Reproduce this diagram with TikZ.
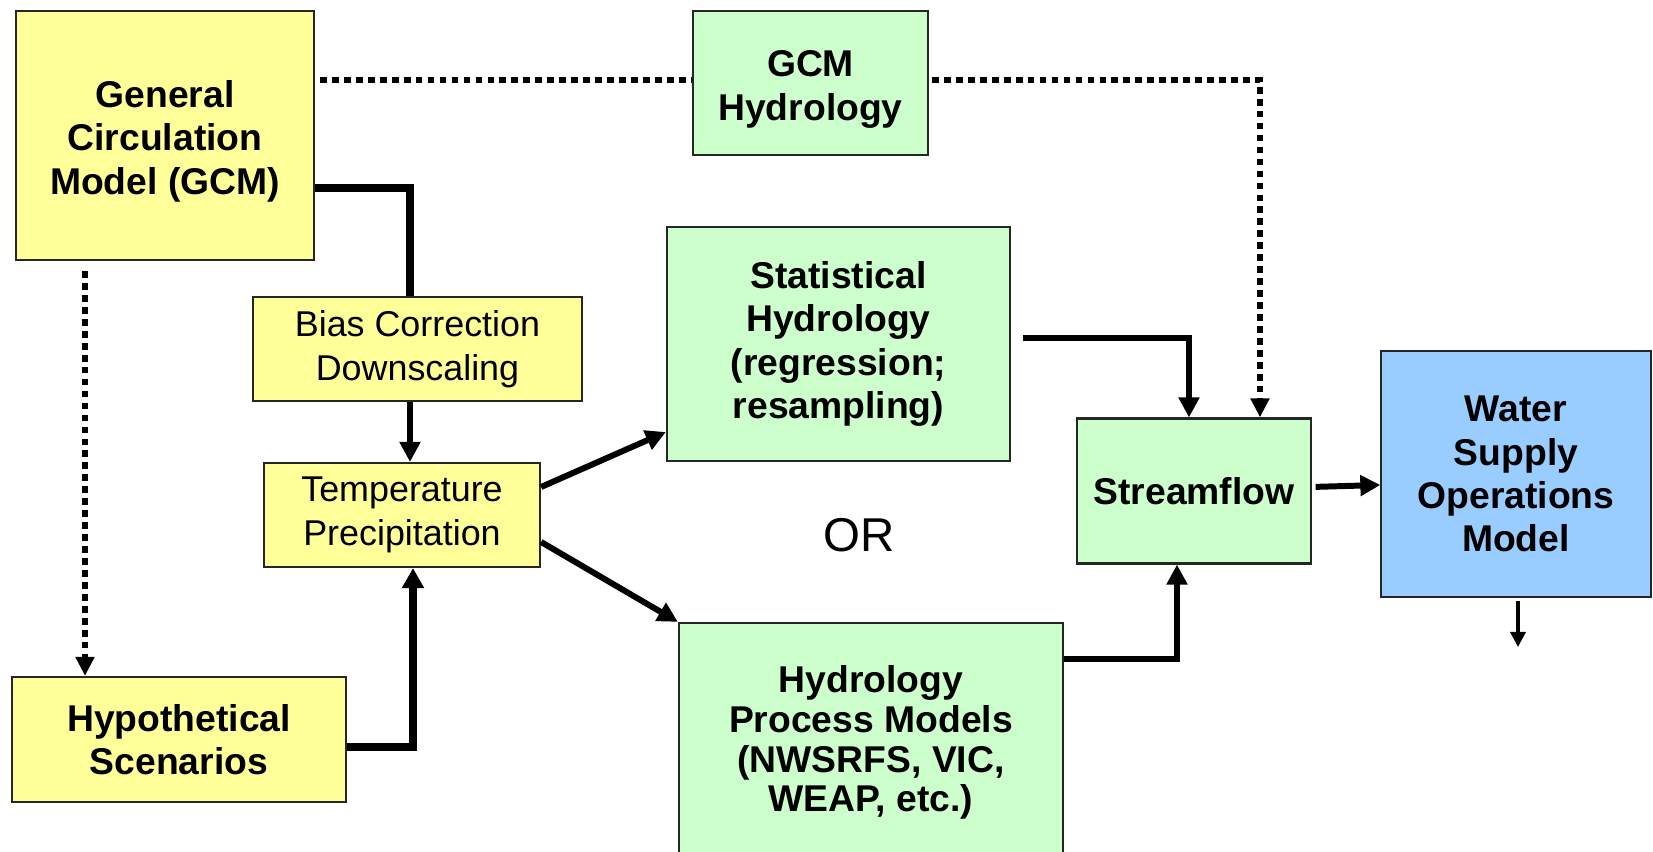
\documentclass[tikz,border=0pt]{standalone}
\usepackage{fontspec}
\setmainfont{Liberation Sans}
\usetikzlibrary{arrows.meta}

\definecolor{gelb}{RGB}{255,255,153}
\definecolor{gruen}{RGB}{204,255,204}
\definecolor{blau}{RGB}{153,204,255}

\begin{document}
\begin{tikzpicture}[%
x={(0.01cm,0cm)},
y={(0cm,-0.01cm)},
kasten/.style={draw=black!85, line width=0.6pt, align=center, inner sep=0pt},
fett/.style={font=\fontsize{10.6}{12.3}\selectfont\bfseries},
normal/.style={font=\fontsize{10.2}{12.6}\selectfont},
pfeil/.style={line width=1.7pt, -{Triangle[length=0.2cm,width=0.2cm]}},
linie/.style={line width=2.1pt},
punkte/.style={line width=1.6pt, dash pattern=on 1.9pt off 1.5pt},
]

\useasboundingbox (0,0) rectangle (1653,852);

\coordinate (A) at (165,135.5);
\coordinate (B) at (810.5,83);
\coordinate (C) at (417.5,349);
\coordinate (D) at (402,515);
\coordinate (E) at (179,739.5);
\coordinate (F) at (838.5,344);
\coordinate (G) at (871,742.5);
\coordinate (H) at (1194,491);
\coordinate (I) at (1516,474);

%Kaesten
\node[kasten, fett, fill=gelb, minimum width=2.98cm, minimum height=2.49cm] (gcm) at (A)
  {\rule{0pt}{11pt}General\\Circulation\\Model (GCM)};
\node[kasten, fett, fill=gruen, minimum width=2.35cm, minimum height=1.44cm] (gcmhyd) at (B)
  {\rule{0pt}{11pt}GCM\\Hydrology};
\node[kasten, normal, fill=gelb, minimum width=3.29cm, minimum height=1.04cm] (bias) at (C)
  {Bias Correction\\Downscaling};
\node[kasten, normal, fill=gelb, minimum width=2.76cm, minimum height=1.04cm] (temp) at (D)
  {Temperature\\Precipitation};
\node[kasten, fett, fill=gelb, minimum width=3.34cm, minimum height=1.25cm] (hyp) at (E)
  {Hypothetical\\Scenarios};
\node[kasten, fett, fill=gruen, minimum width=3.43cm, minimum height=2.34cm] (stat) at (F)
  {Statistical\\Hydrology\\(regression;\\resampling)};
\node[kasten, fill=gruen, minimum width=3.84cm, minimum height=2.39cm,
  font=\fontsize{10.6}{11.3}\selectfont\bfseries] (proc) at (G)
  {Hydrology\\Process Models\\(NWSRFS, VIC,\\WEAP, etc.)};
\node[kasten, fett, fill=gruen, minimum width=2.33cm, minimum height=1.45cm] (flow) at (H)
  {Streamflow};
\node[kasten, fett, fill=blau, minimum width=2.69cm, minimum height=2.45cm] (water) at (I)
  {Water\\Supply\\Operations\\Model};
\node[font=\fontsize{13.5}{16}\selectfont] (oder) at (859,535) {OR};

%Knicke
\coordinate (k1) at (410,188);
\coordinate (k2) at (413,747);
\coordinate (k3) at (1189,338);
\coordinate (k4) at (1260,80);
\coordinate (k5) at (85,0);
\coordinate (k6) at (1177,659);
\coordinate (k7) at (1518,647);

%Verbindungen
\draw[linie] (gcm.east |- k1) -- (k1) -- (k1 |- bias.north);
\draw[pfeil] (bias.south -| k1) -- (k1 |- temp.north);
\draw[linie, -{Triangle[length=0.2cm,width=0.21cm]}] (hyp.east |- k2) -- (k2) -- (k2 |- temp.south);
\draw[pfeil] ([yshift=0.28cm]temp.east) -- ([yshift=-0.88cm]stat.west);
\draw[pfeil] ([yshift=-0.27cm]temp.east) -- (proc.north west);
\draw[pfeil, shorten <=0.12cm] (stat.east |- k3) -- (k3) -- (k3 |- flow.north);
\draw[pfeil] (proc.east |- k6) -- (k6) -- (k6 |- flow.south);
\draw[pfeil, shorten <=0.04cm] ([yshift=0.04cm]flow.east) -- ([yshift=-0.11cm]water.west);
\draw[line width=0.9pt, -{Triangle[length=0.15cm,width=0.15cm]}, shorten <=0.03cm] (water.south -| k7) -- (k7);

%gepunktet
\draw[punkte, shorten <=0.05cm] (gcm.east |- k4) -- (gcmhyd.west |- k4);
\draw[punkte, shorten <=0.03cm, -{Triangle[length=0.19cm,width=0.18cm]}] (gcmhyd.east |- k4) -- (k4) -- (k4 |- flow.north);
\draw[punkte, shorten <=0.1cm, -{Triangle[length=0.19cm,width=0.18cm]}] (gcm.south -| k5) -- (hyp.north -| k5);

\end{tikzpicture}
\end{document}
